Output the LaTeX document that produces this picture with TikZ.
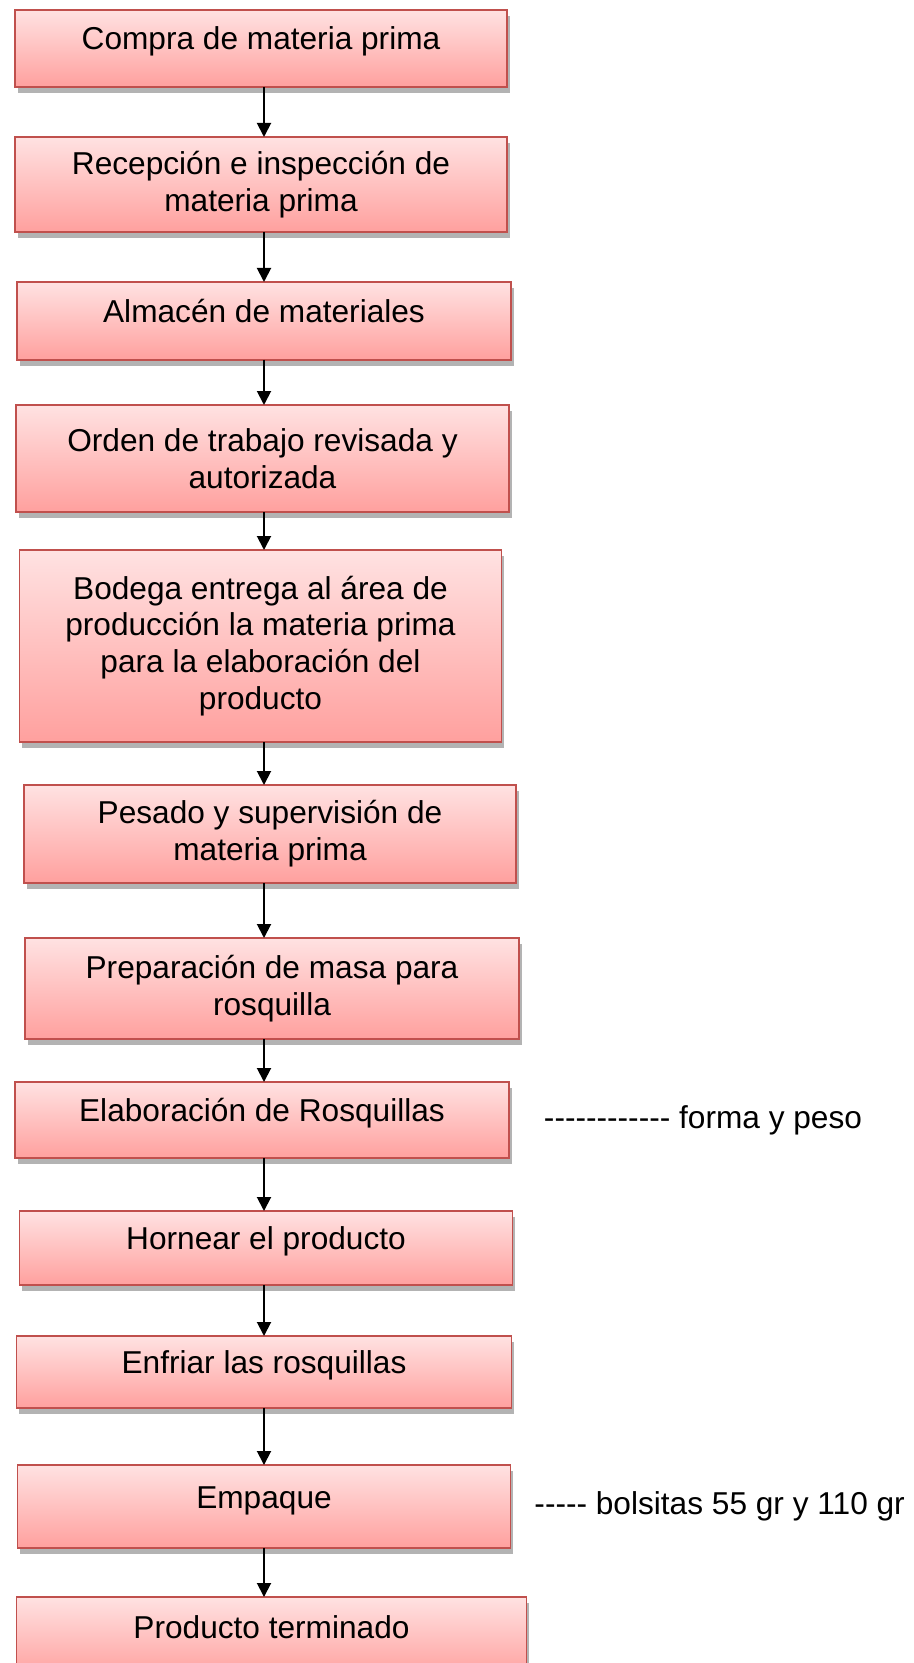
\documentclass[tikz,border=0pt]{standalone}
\usepackage{fontspec}
\setmainfont{Liberation Sans}
\usepackage{tikz}
\usetikzlibrary{arrows.meta,positioning,shadows}

\definecolor{rosaclaro}{RGB}{255,226,226}
\definecolor{rosafuerte}{RGB}{255,160,158}
\definecolor{bordeplano}{RGB}{192,80,77}

\newcommand\rayas[1]{\foreach \n in {1,...,#1}{-\kern0pt}}

\begin{document}
\begin{tikzpicture}[->,>={Triangle[length=0.28cm,width=0.28cm]},line width=1.1pt,node distance=1cm]
  \tikzstyle{paso}=[rectangle,draw=bordeplano,line width=0.8pt,outer sep=0pt,top color=rosaclaro,bottom color=rosafuerte,
    align=center,font=\fontsize{18}{21}\selectfont,
    drop shadow={shadow xshift=0.05cm,shadow yshift=-0.12cm,fill=black!50,opacity=0.6}]
  \tikzstyle{una}=[text height=0.47cm,text depth=0.41cm]
  \tikzstyle{nota}=[font=\fontsize{18}{21}\selectfont,inner sep=0pt]

  \useasboundingbox (0,0) rectangle (18.28,-33.26);
  \coordinate (eje) at (5.28,0);

  \node[paso,una,minimum width=9.84cm,minimum height=1.54cm] (compra) at (5.22,-0.97) {Compra de materia prima};
  \node[paso,minimum width=9.84cm,minimum height=1.90cm] (recep)   [below=1.0cm of compra] {Recepción e inspección de\\materia prima};
  \node[paso,una,minimum width=9.88cm,minimum height=1.56cm] (almacen) [below=1.0cm of recep,xshift=0.06cm] {Almacén de materiales};
  \node[paso,minimum width=9.86cm,minimum height=2.14cm] (orden)   [below=0.9cm of almacen,xshift=-0.03cm] {Orden de trabajo revisada y\\autorizada};
  \node[paso,minimum width=9.64cm,minimum height=3.84cm] (bodega)  [below=0.76cm of orden,xshift=-0.04cm] {Bodega entrega al área de\\producción la materia prima\\para la elaboración del\\producto};
  \node[paso,minimum width=9.84cm,minimum height=1.96cm] (pesado)  [below=0.86cm of bodega,xshift=0.19cm] {Pesado y supervisión de\\materia prima};
  \node[paso,minimum width=9.88cm,minimum height=2.02cm] (prepara) [below=1.1cm of pesado,xshift=0.04cm] {Preparación de masa para\\rosquilla};
  \node[paso,una,minimum width=9.88cm,minimum height=1.52cm] (elabora) [below=0.86cm of prepara,xshift=-0.2cm] {Elaboración de Rosquillas};
  \node[paso,una,minimum width=9.87cm,minimum height=1.48cm] (hornea)  [below=1.06cm of elabora,xshift=0.08cm] {Hornear el producto};
  \node[paso,una,minimum width=9.89cm,minimum height=1.44cm] (enfria)  [below=1.02cm of hornea,xshift=-0.04cm] {Enfriar las rosquillas};
  \node[paso,una,minimum width=9.86cm,minimum height=1.66cm] (empaque) [below=1.14cm of enfria] {Empaque};
  \node[paso,una,minimum width=10.21cm,minimum height=1.6cm] (final)   [below=0.98cm of empaque,xshift=0.15cm] {Producto terminado};

  \node[nota] (forma)    [right=0.68cm of elabora] {\rayas{12} forma y peso};
  \node[nota] (bolsitas) [right=0.46cm of empaque] {\rayas{5} bolsitas 55 gr y 110 gr};

  \path (compra.south -| eje)  edge (recep.north -| eje)
        (recep.south -| eje)   edge (almacen.north -| eje)
        (almacen.south -| eje) edge (orden.north -| eje)
        (orden.south -| eje)   edge (bodega.north -| eje)
        (bodega.south -| eje)  edge (pesado.north -| eje)
        (pesado.south -| eje)  edge (prepara.north -| eje)
        (prepara.south -| eje) edge (elabora.north -| eje)
        (elabora.south -| eje) edge (hornea.north -| eje)
        (hornea.south -| eje)  edge (enfria.north -| eje)
        (enfria.south -| eje)  edge (empaque.north -| eje)
        (empaque.south -| eje) edge (final.north -| eje);
\end{tikzpicture}
\end{document}
